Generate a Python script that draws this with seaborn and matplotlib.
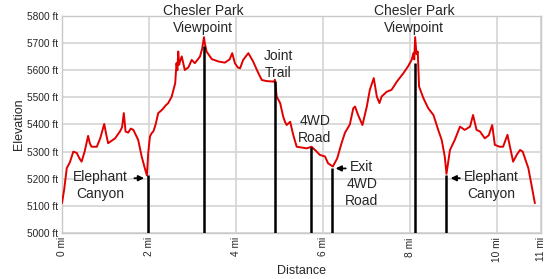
import matplotlib
matplotlib.use("Agg")
import matplotlib.pyplot as plt
import seaborn as sns
import pandas as pd

# ---- data ----
distance_mi = [0.00, 0.05, 0.11, 0.18, 0.26, 0.34, 0.40, 0.45, 0.52, 0.60, 0.64, 0.68, 0.80, 0.88,
               0.97, 1.02, 1.06, 1.14, 1.22, 1.33, 1.38, 1.42, 1.46, 1.52, 1.58, 1.64, 1.70, 1.75,
               1.83, 1.90, 1.95, 1.98, 2.02, 2.06, 2.10, 2.15, 2.21, 2.27, 2.33, 2.38, 2.44, 2.52,
               2.60, 2.63, 2.65, 2.67, 2.69, 2.71, 2.75, 2.82, 2.90, 2.98, 3.05, 3.12, 3.17, 3.22,
               3.26, 3.28, 3.32, 3.44, 3.60, 3.74, 3.85, 3.91, 3.97, 4.04, 4.09, 4.16, 4.28, 4.39,
               4.51, 4.59, 4.70, 4.87, 4.89, 4.93, 5.01, 5.08, 5.12, 5.16, 5.24, 5.31, 5.39, 5.50,
               5.62, 5.73, 5.85, 5.92, 6.04, 6.11, 6.22, 6.32, 6.42, 6.50, 6.61, 6.69, 6.73, 6.80,
               6.90, 7.00, 7.07, 7.16, 7.23, 7.29, 7.34, 7.46, 7.57, 7.69, 7.84, 7.95, 8.03, 8.07,
               8.09, 8.11, 8.14, 8.17, 8.20, 8.30, 8.41, 8.53, 8.64, 8.72, 8.79, 8.83, 8.91, 9.02,
               9.14, 9.25, 9.37, 9.44, 9.52, 9.60, 9.71, 9.80, 9.88, 9.94, 10.05, 10.13, 10.23,
               10.36, 10.45, 10.52, 10.58, 10.71, 10.86]
elevation_ft = [5110, 5160, 5239, 5260, 5300, 5295, 5275, 5263, 5300, 5358, 5330, 5318, 5318, 5350,
                5402, 5360, 5331, 5340, 5349, 5374, 5390, 5442, 5374, 5370, 5385, 5380, 5360, 5343,
                5282, 5240, 5212, 5294, 5356, 5368, 5375, 5400, 5442, 5450, 5460, 5470, 5479, 5503,
                5552, 5626, 5600, 5669, 5620, 5632, 5651, 5601, 5610, 5638, 5626, 5640, 5651, 5680,
                5722, 5700, 5669, 5641, 5632, 5628, 5640, 5663, 5626, 5610, 5607, 5638, 5663, 5632,
                5589, 5564, 5560, 5558, 5565, 5503, 5479, 5429, 5410, 5398, 5410, 5362, 5318, 5315,
                5312, 5318, 5300, 5288, 5282, 5257, 5245, 5275, 5331, 5370, 5400, 5460, 5466, 5435,
                5398, 5466, 5528, 5571, 5503, 5479, 5503, 5521, 5528, 5558, 5589, 5615, 5638, 5663,
                5640, 5722, 5660, 5669, 5540, 5497, 5460, 5435, 5380, 5343, 5282, 5218, 5306, 5343,
                5392, 5380, 5392, 5435, 5380, 5374, 5349, 5360, 5398, 5325, 5318, 5318, 5362,
                5263, 5290, 5306, 5300, 5239, 5110]

marker_labels = ["Elephant\nCanyon", "Chesler Park\nViewpoint", "Joint\nTrail", "4WD\nRoad",
                 "Exit\n4WD\nRoad", "Chesler Park\nViewpoint", "Elephant\nCanyon"]
marker_mi = [1.97, 3.26, 4.89, 5.73, 6.19, 8.11, 8.83]
marker_top_ft = [5212, 5690, 5560, 5318, 5240, 5625, 5214]

x_ticks = [0, 2, 4, 6, 8, 10, 11]
x_tick_labels = ["0 mi", "2 mi", "4 mi", "6 mi", "8 mi", "10 mi", "11 mi"]
y_ticks = [5000, 5100, 5200, 5300, 5400, 5500, 5600, 5700, 5800]
y_tick_labels = [f"{v} ft" for v in y_ticks]

# ---- styling ----
sns.set_theme(style="whitegrid")
plt.rcParams["font.family"] = ["Liberation Sans", "DejaVu Sans"]

fig = plt.figure(figsize=(5.5, 2.79), dpi=100)
ax = fig.add_axes([0.1127, 0.1649, 0.8709, 0.7778])

df = pd.DataFrame({"Distance": distance_mi, "Elevation": elevation_ft})
sns.lineplot(data=df, x="Distance", y="Elevation", ax=ax, color="#e00000",
             linewidth=1.4, estimator=None, sort=False, zorder=3)

ax.vlines(marker_mi, 5000, marker_top_ft, colors="black", linewidth=1.8, zorder=4)

ax.set_xlim(0, 11)
ax.set_ylim(5000, 5800)
ax.set_xticks(x_ticks)
ax.set_xticklabels(x_tick_labels, rotation=90, fontsize=7.3)
ax.set_yticks(y_ticks)
ax.set_yticklabels(y_tick_labels, fontsize=7.3)
ax.tick_params(axis="both", length=0, pad=3)
ax.set_xlabel("Distance", fontsize=9, labelpad=2)
ax.set_ylabel("Elevation", fontsize=9, labelpad=1)
ax.grid(True, color="#d4d4d4", linewidth=1.2)
for s in ax.spines.values():
    s.set_color("#c8c8c8")
    s.set_linewidth(1.0)

tfs = 10
ls = 1.3
# Elephant Canyon (left) with arrow pointing right
ax.text(0.87, 5232, marker_labels[0], ha="center", va="top", fontsize=tfs,
        linespacing=ls, zorder=5)
ax.annotate("", xy=(1.95, 5202), xytext=(1.6, 5202),
            arrowprops=dict(arrowstyle="-|>", color="black", lw=1.3, mutation_scale=8))
# Chesler Park Viewpoint 1
ax.text(3.24, 5845, marker_labels[1], ha="center", va="top", fontsize=tfs,
        linespacing=ls, clip_on=False, zorder=5)
# Joint Trail
ax.text(4.97, 5680, marker_labels[2], ha="center", va="top", fontsize=tfs,
        linespacing=ls, zorder=5)
# 4WD Road
ax.text(5.81, 5440, marker_labels[3], ha="center", va="top", fontsize=tfs,
        linespacing=ls, zorder=5)
# Exit 4WD Road with arrow pointing left
ax.text(6.88, 5270, marker_labels[4], ha="center", va="top", fontsize=tfs,
        linespacing=ls, zorder=5)
ax.annotate("", xy=(6.22, 5238), xytext=(6.58, 5238),
            arrowprops=dict(arrowstyle="-|>", color="black", lw=1.3, mutation_scale=8))
# Chesler Park Viewpoint 2
ax.text(8.08, 5845, marker_labels[5], ha="center", va="top", fontsize=tfs,
        linespacing=ls, clip_on=False, zorder=5)
# Elephant Canyon (right) with arrow pointing left
ax.text(9.85, 5232, marker_labels[6], ha="center", va="top", fontsize=tfs,
        linespacing=ls, zorder=5)
ax.annotate("", xy=(8.86, 5202), xytext=(9.2, 5202),
            arrowprops=dict(arrowstyle="-|>", color="black", lw=1.3, mutation_scale=8))

fig.savefig("out.png", dpi=100)
